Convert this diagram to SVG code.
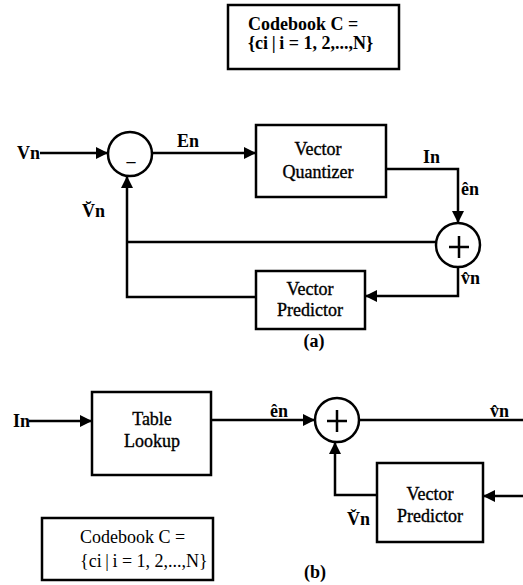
<svg xmlns="http://www.w3.org/2000/svg" width="523" height="585" viewBox="0 0 523 585">
<style>
.box{fill:#fff;stroke:#000;stroke-width:2.5}
.sum{fill:#fff;stroke:#000;stroke-width:2.5}
.ln{fill:none;stroke:#000;stroke-width:2.5}
.t{font-family:"Liberation Serif","Times New Roman",serif;font-size:18px;fill:#000}
.m{stroke:#000;stroke-width:0.35}
.b{font-weight:bold}
.c{text-anchor:middle}
</style>
<defs>
<marker id="arr" viewBox="0 0 12 12" refX="12" refY="6" markerWidth="12" markerHeight="12" orient="auto" markerUnits="userSpaceOnUse">
<path d="M0,0 L12,6 L0,12 z" fill="#000"/>
</marker>
</defs>
<g id="connectors">
<path class="ln" d="M40,153 H108" marker-end="url(#arr)"/>
<path class="ln" d="M152,153 H256" marker-end="url(#arr)"/>
<path class="ln" d="M386,169 H458 V223" marker-end="url(#arr)"/>
<path class="ln" d="M436,242 H127"/>
<path class="ln" d="M256,297 H127 V176" marker-end="url(#arr)"/>
<path class="ln" d="M458,267 V296 H365" marker-end="url(#arr)"/>
<path class="ln" d="M29,421 H92" marker-end="url(#arr)"/>
<path class="ln" d="M211,420 H315" marker-end="url(#arr)"/>
<path class="ln" d="M359,420 H523"/>
<path class="ln" d="M377,495 H335 V442" marker-end="url(#arr)"/>
<path class="ln" d="M523,496 H483" marker-end="url(#arr)"/>
</g>
<g id="codebook-top">
<rect class="box" x="228" y="5" width="171" height="64"/>
<text class="t b" x="248" y="30">Codebook C =</text>
<text class="t b" x="248" y="49">{ci&#8201;|&#8201;i = 1, 2,...,N}</text>
</g>
<g id="sub-a">
<circle class="sum" cx="130" cy="154" r="22"/>
<text class="t b c" x="131" y="167">–</text>
</g>
<g id="vq">
<rect class="box" x="256" y="125" width="130" height="72"/>
<text class="t m c" x="318" y="155">Vector</text>
<text class="t m c" x="318" y="178">Quantizer</text>
</g>
<g id="add-a">
<circle class="sum" cx="458" cy="245" r="22"/>
<path class="ln" d="M449,247 H469 M459,236 V258"/>
</g>
<g id="vp-a">
<rect class="box" x="256" y="271" width="109" height="58"/>
<text class="t m c" x="310" y="295">Vector</text>
<text class="t m c" x="310" y="316">Predictor</text>
</g>
<g id="labels-a">
<text class="t b" x="17" y="159">Vn</text>
<text class="t b" x="177" y="147">En</text>
<text class="t b" x="423" y="163">In</text>
<text class="t b" x="461" y="195">ên</text>
<text class="t b" x="461" y="284">v̂n</text>
<text class="t b" x="82" y="217">V̆n</text>
<text class="t b c" x="314" y="347">(a)</text>
</g>
<g id="lookup">
<rect class="box" x="92" y="392" width="119" height="83"/>
<text class="t m c" x="152" y="425">Table</text>
<text class="t m c" x="152" y="447">Lookup</text>
</g>
<g id="add-b">
<circle class="sum" cx="337" cy="420" r="22"/>
<path class="ln" d="M327,421 H347 M337,410 V432"/>
</g>
<g id="vp-b">
<rect class="box" x="377" y="463" width="106" height="79"/>
<text class="t m c" x="430" y="500">Vector</text>
<text class="t m c" x="430" y="522">Predictor</text>
</g>
<g id="codebook-bottom">
<rect class="box" x="42" y="518" width="171" height="62"/>
<text class="t" x="80" y="543">Codebook C =</text>
<text class="t" x="80" y="567">{ci&#8201;|&#8201;i = 1, 2,...,N}</text>
</g>
<g id="labels-b">
<text class="t b" x="13" y="427">In</text>
<text class="t b" x="270" y="417">ên</text>
<text class="t b" x="490" y="417">v̂n</text>
<text class="t b" x="347" y="525">V̌n</text>
<text class="t b c" x="315" y="578">(b)</text>
</g>
</svg>
